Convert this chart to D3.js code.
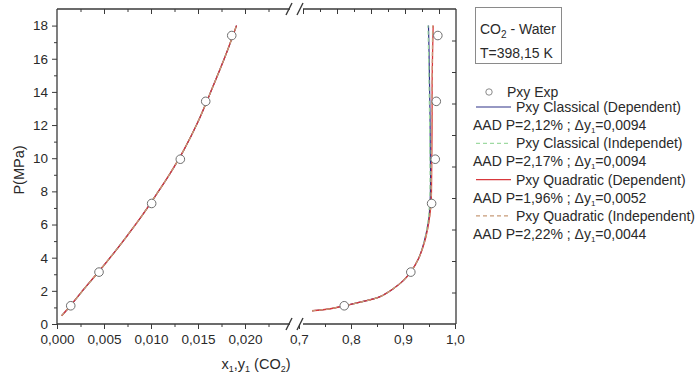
<!DOCTYPE html>
<html>
<head>
<meta charset="utf-8">
<script src="https://cdn.jsdelivr.net/npm/d3@7"></script>
<style>
  html, body { margin: 0; padding: 0; background: #fff; }
  svg { display: block; font-family: "Liberation Sans", Arial, sans-serif; }
</style>
</head>
<body>
<svg id="chart" width="696" height="378"></svg>
<script>
// ---- Experimental CO2 - water P-x-y data at 398.15 K ----
const expX1 = [0.00146, 0.00447, 0.01007, 0.01312, 0.01582, 0.01859];
const expY1 = [0.787, 0.915, 0.955, 0.962, 0.964, 0.967];
const expP  = [1.10, 3.13, 7.27, 9.94, 13.43, 17.40];

// ---- Model curves: liquid branch (x1) ----
const liqP = [0.5, 1.1, 2.1, 3.15, 4.25, 5.35, 6.5, 7.75, 9.05, 10.5, 12.2, 14.2, 16.3, 18.0];
const liqClassicalDep   = [0.0005, 0.00143, 0.00286, 0.00443, 0.0060, 0.0075, 0.0090, 0.0105, 0.0120, 0.0135, 0.0150, 0.0165, 0.0180, 0.0191];
const liqClassicalIndep = [0.0005, 0.00143, 0.00287, 0.00444, 0.0060, 0.0075, 0.0090, 0.0105, 0.0120, 0.0135, 0.0150, 0.0165, 0.0180, 0.0191];
const liqQuadDep        = [0.0005, 0.00142, 0.00285, 0.00442, 0.0060, 0.0075, 0.0090, 0.0105, 0.0120, 0.0135, 0.0150, 0.0165, 0.0180, 0.0191];
const liqQuadIndep      = [0.0005, 0.00143, 0.00286, 0.00443, 0.0060, 0.0075, 0.0090, 0.0105, 0.0120, 0.0135, 0.0150, 0.0165, 0.0180, 0.0191];

// ---- Model curves: vapour branch (y1) ----
const vapP = [0.8, 0.92, 1.1, 1.33, 1.65, 2.1, 2.6, 3.15, 3.95, 5.0, 6.2, 7.3, 8.7, 10.5, 12.5, 14.5, 16.5, 18.0];
const vapClassicalDep   = [0.725, 0.76, 0.787, 0.82, 0.856, 0.88, 0.90, 0.915, 0.930, 0.941, 0.949, 0.952, 0.953, 0.9525, 0.952, 0.951, 0.950, 0.949];
const vapClassicalIndep = [0.725, 0.76, 0.787, 0.82, 0.856, 0.88, 0.90, 0.915, 0.930, 0.941, 0.948, 0.951, 0.952, 0.9515, 0.951, 0.950, 0.949, 0.948];
const vapQuadDep        = [0.725, 0.76, 0.787, 0.82, 0.856, 0.88, 0.90, 0.915, 0.930, 0.942, 0.950, 0.954, 0.955, 0.9555, 0.956, 0.956, 0.957, 0.958];
const vapQuadIndep      = [0.725, 0.76, 0.787, 0.82, 0.856, 0.88, 0.90, 0.915, 0.930, 0.942, 0.950, 0.954, 0.9545, 0.955, 0.9555, 0.956, 0.9565, 0.957];

// ---- Axis ticks ----
const xLeftMajor  = [0, 0.005, 0.010, 0.015, 0.020];
const xLeftMinor  = [0.0025, 0.0075, 0.0125, 0.0175, 0.0225];
const xRightMajor = [0.7, 0.8, 0.9, 1.0];
const xRightMinor = [0.75, 0.85, 0.95];
const yMajor = [0, 2, 4, 6, 8, 10, 12, 14, 16, 18];
const yMinor = [1, 3, 5, 7, 9, 11, 13, 15, 17];

// ---- Legend entries ----
const seriesNames = ["Pxy Classical (Dependent)", "Pxy Classical (Independet)", "Pxy Quadratic (Dependent)", "Pxy Quadratic (Independent)"];
const aadP  = ["2,12%", "2,17%", "1,96%", "2,22%"];
const aadY1 = ["0,0094", "0,0094", "0,0052", "0,0044"];

const colors = ["#2f3388", "#9fdaa2", "#d8383c", "#c79b78"];
const dashes = [null, "4,3", null, "4,3"];
const widths = [1.2, 1.2, 1.3, 1.2];

const svg = d3.select("#chart");
const frameTop = 9, frameBottom = 324, frameLeft = 57, frameRight = 456;
const breakL = 292, breakR = 299;

const xL = d3.scaleLinear().domain([0, 0.025]).range([frameLeft, breakL]);
const xR = d3.scaleLinear().domain([0.7, 1.0]).range([breakR, 455]);
const y  = d3.scaleLinear().domain([0, 19]).range([frameBottom, frameTop]);
// right and top-right frame ticks are evenly divided without labels
const yRightTicks = d3.scaleLinear().domain([0, 10]).range([frameBottom, frameTop]);
const xTopRight = d3.scaleLinear().domain([0, 9]).range([303, frameRight]);

const comma = d3.formatLocale({ decimal: ",", thousands: ".", grouping: [3], currency: ["", ""] });
const f3 = comma.format(".3f"), f1 = comma.format(".1f");

const axisColor = "#3a3a3a", textColor = "#2a2a2a";

function styleAxis(g) {
  g.select(".domain").remove();
  g.selectAll(".tick line").attr("stroke", axisColor).attr("stroke-width", 1);
  g.selectAll(".tick text").attr("fill", textColor).style("font-size", "13.5px").style("font-family", "Liberation Sans, Arial, sans-serif");
}

// bottom axis, left segment
svg.append("g").attr("transform", `translate(0,${frameBottom})`)
  .call(d3.axisBottom(xL).tickValues(xLeftMajor).tickSize(5).tickPadding(5).tickFormat(f3)).call(styleAxis);
svg.append("g").attr("transform", `translate(0,${frameBottom})`)
  .call(d3.axisBottom(xL).tickValues(xLeftMinor).tickSize(3).tickFormat("")).call(styleAxis);
// bottom axis, right segment
svg.append("g").attr("transform", `translate(0,${frameBottom})`)
  .call(d3.axisBottom(xR).tickValues(xRightMajor).tickSize(5).tickPadding(5).tickFormat(f1)).call(styleAxis);
svg.append("g").attr("transform", `translate(0,${frameBottom})`)
  .call(d3.axisBottom(xR).tickValues(xRightMinor).tickSize(3).tickFormat("")).call(styleAxis);
// top frame ticks (inward)
svg.append("g").attr("transform", `translate(0,${frameTop})`)
  .call(d3.axisBottom(xL).tickValues(xLeftMajor.slice(1)).tickSize(5).tickFormat("")).call(styleAxis);
svg.append("g").attr("transform", `translate(0,${frameTop})`)
  .call(d3.axisBottom(xL).tickValues(xLeftMinor).tickSize(3).tickFormat("")).call(styleAxis);
svg.append("g").attr("transform", `translate(0,${frameTop})`)
  .call(d3.axisBottom(xTopRight).tickValues([0, 2, 4, 6, 8]).tickSize(5).tickFormat("")).call(styleAxis);
svg.append("g").attr("transform", `translate(0,${frameTop})`)
  .call(d3.axisBottom(xTopRight).tickValues([1, 3, 5, 7]).tickSize(3).tickFormat("")).call(styleAxis);

// left axis
svg.append("g").attr("transform", `translate(${frameLeft},0)`)
  .call(d3.axisLeft(y).tickValues(yMajor).tickSize(5).tickPadding(4).tickFormat(d3.format("d"))).call(styleAxis);
svg.append("g").attr("transform", `translate(${frameLeft},0)`)
  .call(d3.axisLeft(y).tickValues(yMinor).tickSize(3).tickFormat("")).call(styleAxis);
// right frame ticks (inward)
svg.append("g").attr("transform", `translate(${frameRight},0)`)
  .call(d3.axisLeft(yRightTicks).tickValues(d3.range(1, 10)).tickSize(4).tickFormat("")).call(styleAxis);

// frame lines with the axis break
const frame = svg.append("g").attr("stroke", axisColor).attr("stroke-width", 1.3).attr("fill", "none");
frame.append("line").attr("x1", frameLeft).attr("x2", frameLeft).attr("y1", frameTop).attr("y2", frameBottom);
frame.append("line").attr("x1", frameRight).attr("x2", frameRight).attr("y1", frameTop).attr("y2", frameBottom);
[frameTop, frameBottom].forEach(yy => {
  frame.append("line").attr("x1", frameLeft).attr("x2", breakL - 2).attr("y1", yy).attr("y2", yy);
  frame.append("line").attr("x1", breakR + 4).attr("x2", frameRight).attr("y1", yy).attr("y2", yy);
  // break marks
  [breakL - 3, breakR + 1].forEach(bx => {
    frame.append("line").attr("x1", bx - 3).attr("y1", yy + 6).attr("x2", bx + 3).attr("y2", yy - 6)
      .attr("stroke-width", 1.4);
  });
});

// model curves
const liqSets = [liqClassicalDep, liqClassicalIndep, liqQuadDep, liqQuadIndep];
const vapSets = [vapClassicalDep, vapClassicalIndep, vapQuadDep, vapQuadIndep];
const lineL = d3.line().x(d => xL(d[0])).y(d => y(d[1])).curve(d3.curveCatmullRom.alpha(0.5));
const lineR = d3.line().x(d => xR(d[0])).y(d => y(d[1])).curve(d3.curveCatmullRom.alpha(0.5));
const curves = svg.append("g").attr("fill", "none");
for (let i = 0; i < 4; i++) {
  curves.append("path").attr("d", lineL(liqSets[i].map((x, k) => [x, liqP[k]])))
    .attr("stroke", colors[i]).attr("stroke-width", widths[i]).attr("stroke-dasharray", dashes[i]);
  curves.append("path").attr("d", lineR(vapSets[i].map((x, k) => [x, vapP[k]])))
    .attr("stroke", colors[i]).attr("stroke-width", widths[i]).attr("stroke-dasharray", dashes[i]);
}

// experimental points
const pts = svg.append("g").attr("fill", "#fff").attr("stroke", "#6e6e6e").attr("stroke-width", 1);
expP.forEach((p, i) => {
  pts.append("circle").attr("cx", xL(expX1[i])).attr("cy", y(p)).attr("r", 4.3);
  pts.append("circle").attr("cx", xR(expY1[i])).attr("cy", y(p)).attr("r", 4.3);
});

// axis titles
svg.append("text").attr("transform", `translate(24,170) rotate(-90)`).attr("text-anchor", "middle")
  .attr("fill", textColor).style("font-size", "14.5px").text("P(MPa)");
const xt = svg.append("text").attr("x", 256).attr("y", 369).attr("text-anchor", "middle")
  .attr("fill", textColor).style("font-size", "14.5px");
xt.append("tspan").text("x");
xt.append("tspan").attr("dy", 3).style("font-size", "9px").text("1");
xt.append("tspan").attr("dy", -3).text(",y");
xt.append("tspan").attr("dy", 3).style("font-size", "9px").text("1");
xt.append("tspan").attr("dy", -3).text(" (CO");
xt.append("tspan").attr("dy", 3).style("font-size", "9px").text("2");
xt.append("tspan").attr("dy", -3).text(")");

// title box
svg.append("rect").attr("x", 475.5).attr("y", 7.5).attr("width", 86).attr("height", 56)
  .attr("fill", "#fff").attr("stroke", "#8a8a8a").attr("stroke-width", 1);
const t1 = svg.append("text").attr("x", 480).attr("y", 34).attr("fill", textColor).style("font-size", "14px");
t1.append("tspan").text("CO");
t1.append("tspan").attr("dy", 4).style("font-size", "10px").text("2");
t1.append("tspan").attr("dy", -4).text(" - Water");
svg.append("text").attr("x", 480).attr("y", 58).attr("fill", textColor).style("font-size", "14px").text("T=398,15 K");

// legend
const lg = svg.append("g").style("font-size", "14px").attr("fill", textColor);
lg.append("circle").attr("cx", 489).attr("cy", 92).attr("r", 3.2).attr("fill", "#fff").attr("stroke", "#8a8a8a");
lg.append("text").attr("x", 507).attr("y", 97).text("Pxy Exp");
for (let i = 0; i < 4; i++) {
  const yy = 107 + i * 36.3;
  lg.append("line").attr("x1", 476).attr("x2", 511).attr("y1", yy).attr("y2", yy)
    .attr("stroke", colors[i]).attr("stroke-width", widths[i]).attr("stroke-dasharray", dashes[i]);
  lg.append("text").attr("x", 516).attr("y", yy + 5).text(seriesNames[i]);
  const a = lg.append("text").attr("x", 473).attr("y", yy + 23);
  a.append("tspan").text(`AAD P=${aadP[i]} ; \u0394y`);
  a.append("tspan").attr("dy", 3).style("font-size", "8px").text("1");
  a.append("tspan").attr("dy", -3).text(`=${aadY1[i]}`);
}
</script>
</body>
</html>
